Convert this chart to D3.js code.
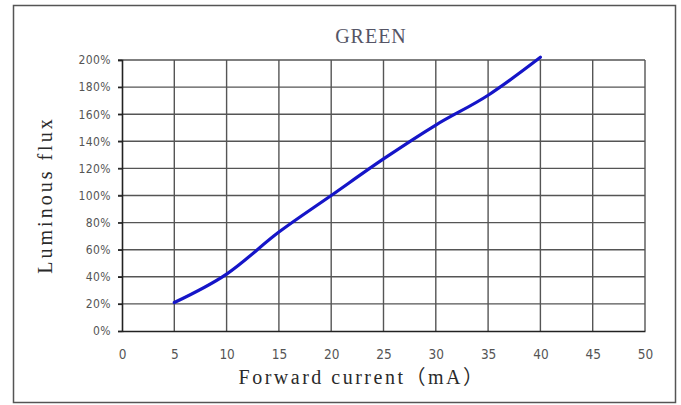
<!DOCTYPE html>
<html>
<head>
<meta charset="utf-8">
<script src="https://cdn.jsdelivr.net/npm/d3@7"></script>
<style>
  body { margin: 0; background: #fff; }
  svg { display: block; }
</style>
</head>
<body>
<div id="chart"></div>
<script>
// forward current (mA) vs relative luminous flux (%)
const current = [5, 10, 15, 20, 25, 30, 35, 40]
const flux = [21, 42, 73, 100, 127, 152, 174, 202]
const xTicks = [0, 5, 10, 15, 20, 25, 30, 35, 40, 45, 50]
const yTicks = [0, 20, 40, 60, 80, 100, 120, 140, 160, 180, 200]

const width = 681
const height = 405
const margin = { left: 122, right: 36, top: 60, bottom: 74 }

const svg = d3.select('#chart')
  .append('svg')
  .attr('width', width)
  .attr('height', height)

// outer frame
svg.append('rect')
  .attr('x', 13.5)
  .attr('y', 5.5)
  .attr('width', 662)
  .attr('height', 397)
  .attr('fill', 'none')
  .attr('stroke', '#555')
  .attr('stroke-width', 1.5)

const x = d3.scaleLinear()
  .domain([0, 50])
  .range([margin.left, width - margin.right])

const y = d3.scaleLinear()
  .domain([0, 200])
  .range([height - margin.bottom, margin.top])

// grid
svg.append('g')
  .selectAll('line')
  .data(xTicks.slice(1))
  .enter()
  .append('line')
  .attr('x1', d => x(d))
  .attr('x2', d => x(d))
  .attr('y1', y(0))
  .attr('y2', y(200))
  .attr('stroke', '#555')
  .attr('stroke-width', 1.4)

svg.append('g')
  .selectAll('line')
  .data(yTicks.slice(1))
  .enter()
  .append('line')
  .attr('x1', x(0) - 4)
  .attr('x2', x(50))
  .attr('y1', d => y(d))
  .attr('y2', d => y(d))
  .attr('stroke', '#555')
  .attr('stroke-width', 1.4)

// axes
const tickFont = '"DejaVu Sans Condensed", "DejaVu Sans", sans-serif'
const labelFont = '"Liberation Serif", "Noto Sans CJK SC", serif'

const xAxis = svg.append('g')
  .attr('transform', `translate(0,${y(0)})`)
  .call(d3.axisBottom(x).tickValues(xTicks).tickSize(0).tickPadding(18))

const yAxis = svg.append('g')
  .attr('transform', `translate(${x(0)},0)`)
  .call(d3.axisLeft(y).tickValues(yTicks).tickSize(4).tickPadding(7).tickFormat(d => d + '%'))

;[xAxis, yAxis].forEach(ax => {
  ax.select('.domain').attr('stroke', '#222').attr('stroke-width', 1.6)
  ax.selectAll('.tick line').attr('stroke', '#222').attr('stroke-width', 1.4)
  ax.selectAll('text')
    .attr('fill', '#555')
    .style('font-family', tickFont)
})
xAxis.selectAll('text').style('font-size', '13.5px')
yAxis.selectAll('text').style('font-size', '12px').style('letter-spacing', '0.4px')

// curve
const line = d3.line()
  .x((d, i) => x(current[i]))
  .y(d => y(d))
  .curve(d3.curveMonotoneX)

svg.append('path')
  .datum(flux)
  .attr('d', line)
  .attr('fill', 'none')
  .attr('stroke', '#1515c8')
  .attr('stroke-width', 3.2)
  .attr('stroke-linecap', 'round')

// labels
svg.append('text')
  .attr('x', 371)
  .attr('y', 43)
  .attr('text-anchor', 'middle')
  .attr('fill', '#556')
  .style('font-family', labelFont)
  .style('font-size', '20px')
  .style('letter-spacing', '1px')
  .text('GREEN')

svg.append('text')
  .attr('x', 362)
  .attr('y', 384)
  .attr('text-anchor', 'middle')
  .attr('fill', '#2a2a2a')
  .style('font-family', labelFont)
  .style('font-size', '20px')
  .style('letter-spacing', '2.5px')
  .text('Forward current（mA）')

svg.append('text')
  .attr('transform', 'translate(52,195) rotate(-90)')
  .attr('text-anchor', 'middle')
  .attr('fill', '#2a2a2a')
  .style('font-family', labelFont)
  .style('font-size', '20px')
  .style('letter-spacing', '3px')
  .text('Luminous flux')
</script>
</body>
</html>
